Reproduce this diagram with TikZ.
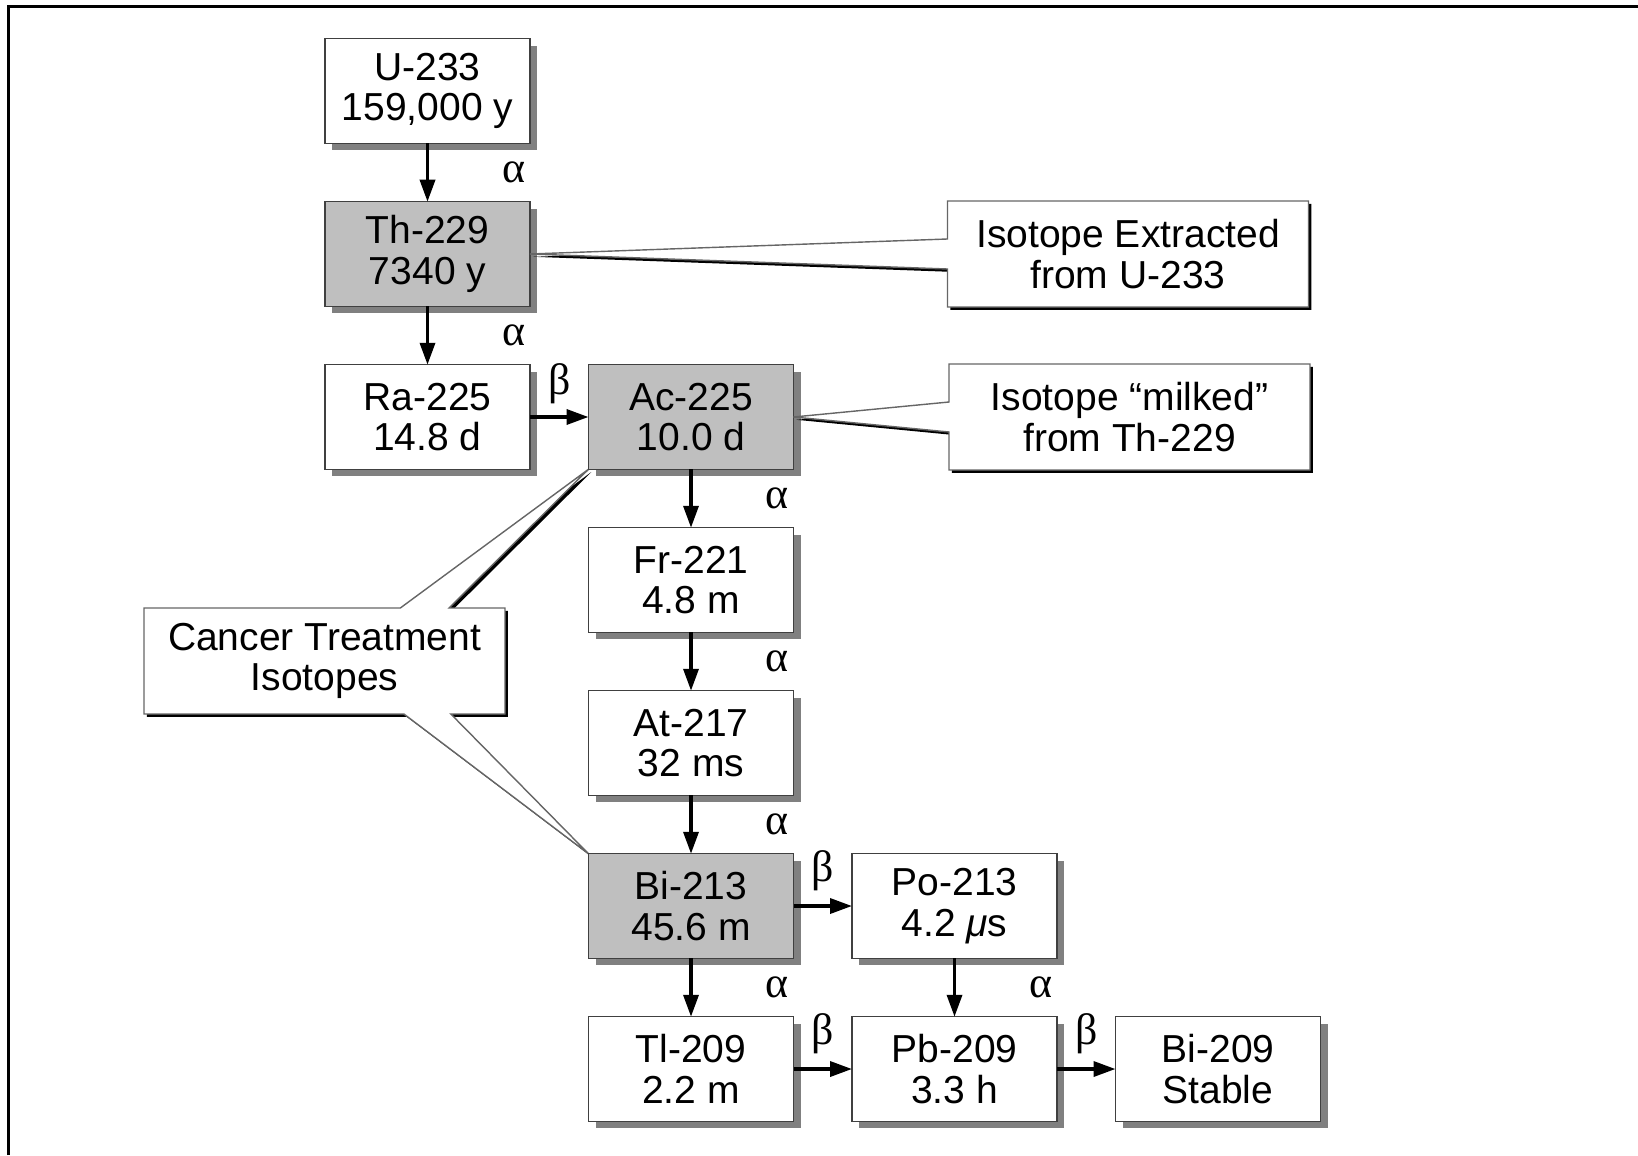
\documentclass[tikz,border=0pt]{standalone}
\usepackage{fontspec}
\setmainfont{Liberation Sans}
\newfontfamily\greekfont{Liberation Serif}
\usetikzlibrary{positioning,arrows.meta,shadows,shapes.callouts,calc,backgrounds}
\tikzset{node distance=0.585cm}

\begin{document}
\begin{tikzpicture}[
  isotope/.style={draw=black!75, line width=0.4pt, fill=white, align=center,
    minimum width=2.05cm, minimum height=1.045cm, inner sep=0pt, outer sep=0pt,
    font=\fontsize{11.1}{11.6}\selectfont,
    drop shadow={shadow xshift=0.07cm, shadow yshift=-0.07cm, fill=black!50, opacity=1}},
  medical/.style={isotope, fill=black!25},
  label/.style={align=center, minimum width=3.61cm, minimum height=1.06cm,
    inner sep=0pt, outer sep=0pt, font=\fontsize{11.1}{11.6}\selectfont},
  note/.style={label, rectangle callout, draw=black!60, line width=0.4pt, fill=white,
    callout pointer width=0.3cm,
    drop shadow={shadow xshift=0.028cm, shadow yshift=-0.028cm, fill=black, opacity=1}},
  decay/.style={-{Triangle[length=0.22cm,width=0.15cm]}, line width=1pt},
  ray/.style={font=\greekfont\fontsize{12.5}{13}\selectfont}
]
\useasboundingbox (0,0) rectangle (16.38,-11.55);
\draw[line width=0.03cm] (0.09,-11.55) |- (16.38,-0.07);

% decay chain
\node[isotope] (u) at (4.275,-0.91) {U-233\\159,000 y};
\node[medical, below=of u] (th) {Th-229\\7340 y};
\node[isotope, below=of th] (ra) {Ra-225\\14.8 d};
\node[medical, right=of ra] (ac) {Ac-225\\10.0 d};
\node[isotope, below=of ac] (fr) {Fr-221\\4.8 m};
\node[isotope, below=of fr] (at) {At-217\\32 ms};
\node[medical, below=of at] (bi) {Bi-213\\45.6 m};
\node[isotope, right=of bi] (po) {Po-213\\4.2 {\itshape μ}s};
\node[isotope, below=of bi] (tl) {Tl-209\\2.2 m};
\node[isotope, right=of tl] (pb) {Pb-209\\3.3 h};
\node[isotope, right=of pb] (stable) {Bi-209\\Stable};

\draw[decay] (u) -- node[ray, xshift=0.86cm] {α} (th);
\draw[decay] (th) -- node[ray, xshift=0.86cm] {α} (ra);
\draw[decay] (ra) -- node[ray, yshift=0.33cm] {β} (ac);
\draw[decay] (ac) -- node[ray, xshift=0.86cm] {α} (fr);
\draw[decay] (fr) -- node[ray, xshift=0.86cm] {α} (at);
\draw[decay] (at) -- node[ray, xshift=0.86cm] {α} (bi);
\draw[decay] (bi) -- node[ray, yshift=0.35cm] {β} (po);
\draw[decay] (bi) -- node[ray, xshift=0.86cm] {α} (tl);
\draw[decay] (po) -- node[ray, xshift=0.86cm] {α} (pb);
\draw[decay] (tl) -- node[ray, yshift=0.35cm] {β} (pb);
\draw[decay] (pb) -- node[ray, yshift=0.35cm] {β} (stable);

% callouts
\node[note, right=4.175cm of th, callout absolute pointer={(th.east)}] (extract) {Isotope Extracted\\from U-233};
\node[note, right=1.555cm of ac, callout absolute pointer={(ac.east)}] (milk) {Isotope “milked”\\from Th-229};
\node[label] (cancer) at (3.245,-6.61) {Cancer Treatment\\Isotopes};
\begin{scope}[on background layer]
\draw[draw=black!60, line width=0.4pt, fill=white,
  drop shadow={shadow xshift=0.028cm, shadow yshift=-0.028cm, fill=black, opacity=1}]
  (cancer.north west) -- ($(cancer.north west)!0.71!(cancer.north east)$) -- (ac.south west)
  -- ($(cancer.north west)!0.845!(cancer.north east)$) -- (cancer.north east)
  -- (cancer.south east) -- ($(cancer.south west)!0.85!(cancer.south east)$) -- (bi.north west)
  -- ($(cancer.south west)!0.72!(cancer.south east)$) -- (cancer.south west) -- cycle;
\end{scope}
\end{tikzpicture}
\end{document}
